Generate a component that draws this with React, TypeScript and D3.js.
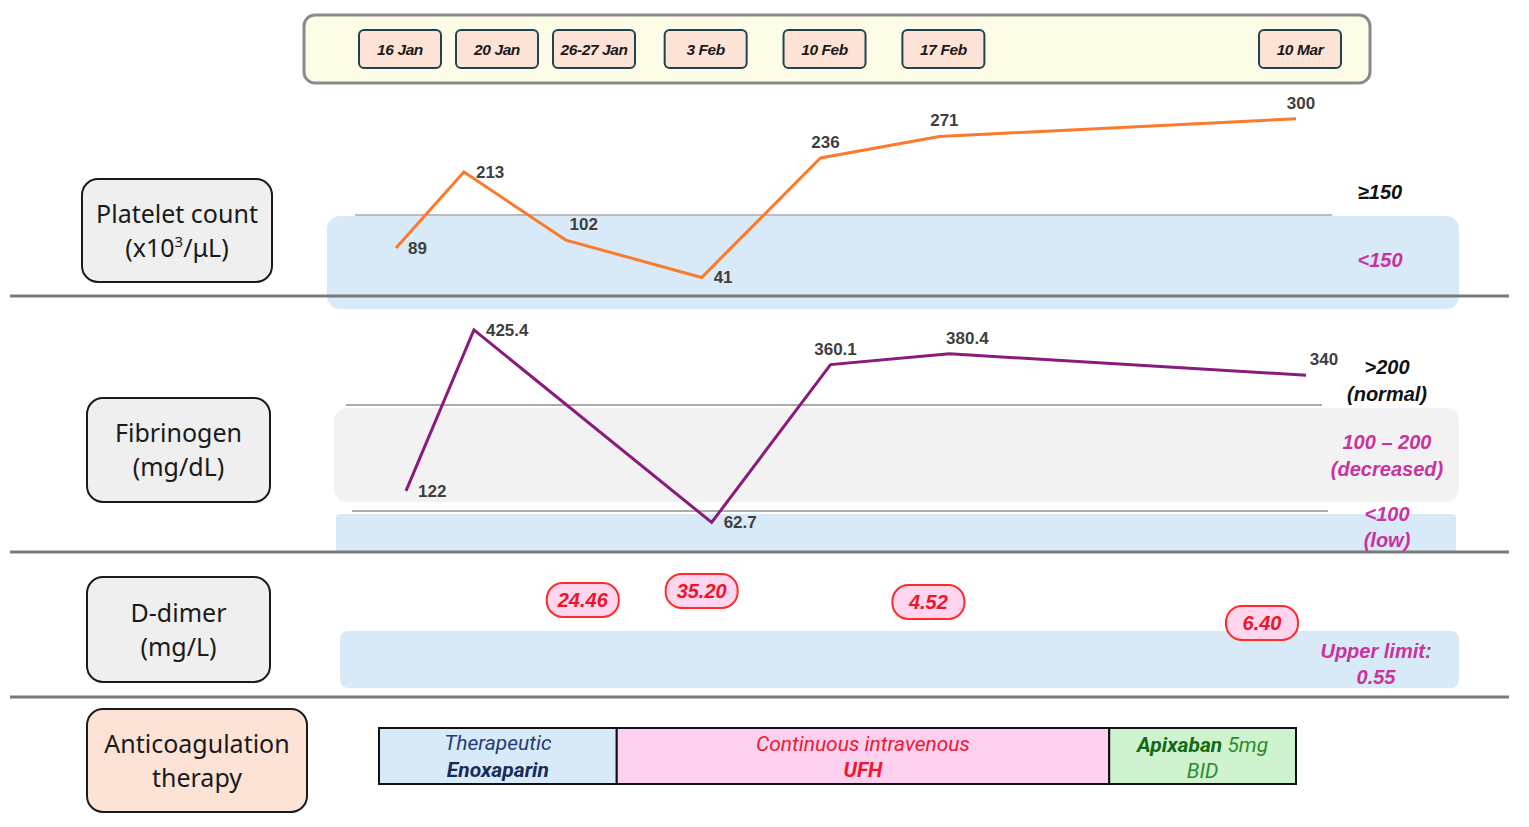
import * as d3 from 'd3';

// ---- data ----
const dateLabels = ['16 Jan', '20 Jan', '26-27 Jan', '3 Feb', '10 Feb', '17 Feb', '10 Mar'];
const dateTicks = ['2023-01-16', '2023-01-20', '2023-01-26', '2023-02-03', '2023-02-10', '2023-02-17', '2023-03-10'];

const plateletDates = ['2023-01-16', '2023-01-20', '2023-01-26', '2023-02-03', '2023-02-10', '2023-02-17', '2023-03-10'];
const plateletValues = [89, 213, 102, 41, 236, 271, 300];

const fibrinogenDates = ['2023-01-16', '2023-01-20', '2023-02-03', '2023-02-10', '2023-02-17', '2023-03-10'];
const fibrinogenValues = [122, 425.4, 62.7, 360.1, 380.4, 340];

const dimerDates = ['2023-01-27', '2023-02-03', '2023-02-17', '2023-03-10'];
const dimerValues = ['24.46', '35.20', '4.52', '6.40'];

const therapyStart = ['2023-01-15', '2023-01-29', '2023-02-27'];
const therapyEnd = ['2023-01-29', '2023-02-27', '2023-03-10'];

const parse = d3.timeParse('%Y-%m-%d');

// label placement: 'r' = right of point, 'a' = above, 'ar' = above right
const plateletLabelPos = ['r', 'r', 'ar', 'r', 'a', 'a', 'a'];
const fibrinogenLabelPos = ['r', 'r', 'r', 'a', 'ar', 'ar'];
// d-dimer callouts are loosely placed in the source
const dimerNudgeX = [0, 0, -11, -34];
const dimerNudgeY = [0, -9, 2, 23];

const MAGENTA = '#c8339f';
const NUM = "'Liberation Sans', Arial, sans-serif";
const BOXFONT = "'Noto Sans', 'Open Sans', sans-serif";

const x = d3.scaleTime()
  .domain([parse('2023-01-16')!, parse('2023-03-10')!])
  .range([396, 1296]);

const yPlatelet = d3.scaleLinear().domain([0, 300]).range([302.6, 118.7]);
const yFib = d3.scaleLinear().domain([0, 400]).range([555.7, 343.4]);

const LabelBox = ({ x0, y0, w, h, fill, lines }: any) => (
  <g>
    <rect x={x0} y={y0} width={w} height={h} rx={16} fill={fill} stroke="#1a1a1a" strokeWidth={2} />
    {lines.map((l: any, i: number) => (
      <text key={i} x={x0 + w / 2} y={y0 + h / 2 + (i === 0 ? -8 : 26)} textAnchor="middle"
        fontFamily={BOXFONT} fontSize={25} fill="#1a1a1a">{l}</text>
    ))}
  </g>
);

const App = () => {
  // date boxes: keep at scale positions but push apart so they don't overlap
  const boxX: number[] = [];
  dateTicks.forEach((d, i) => {
    const px = x(parse(d)!);
    boxX.push(i === 0 ? px : Math.max(px, boxX[i - 1] + 97));
  });

  const pltPts = plateletDates.map((d, i) => [x(parse(d)!), yPlatelet(plateletValues[i])] as [number, number]);
  const fibPts = fibrinogenDates.map((d, i) => [x(parse(d)!) + 10, yFib(fibrinogenValues[i])] as [number, number]);
  const line = d3.line();

  const labelAt = (p: [number, number], pos: string) => {
    if (pos === 'r') return { x: p[0] + 12, y: p[1] + 6, anchor: 'start' };
    if (pos === 'ar') return { x: p[0] + 18, y: p[1] - 10, anchor: 'middle' };
    return { x: p[0] + 5, y: p[1] - 10, anchor: 'middle' };
  };

  const sep = (y: number) => <line x1={10} x2={1509} y1={y} y2={y} stroke="#7a7a7a" strokeWidth={3} />;
  const side = { textAnchor: 'middle', fontFamily: NUM, fontStyle: 'italic', fontWeight: 700, fontSize: 20 } as any;

  return (
    <svg width={1529} height={827} style={{ position: 'absolute', left: 0, top: 0, background: '#fff' }}>
      {/* date strip */}
      <rect x={304} y={15} width={1066} height={68} rx={11} fill="#fdfce6" stroke="#8a8a8a" strokeWidth={3} />
      {dateLabels.map((l, i) => (
        <g key={l}>
          <rect x={boxX[i] + 4 - 41} y={30} width={82} height={38} rx={5} fill="#fde3d6" stroke="#1f4450" strokeWidth={2} />
          <text x={boxX[i] + 4} y={55} textAnchor="middle" fontFamily={NUM} fontStyle="italic"
            fontWeight={700} fontSize={15.5} fill="#1a1a1a" letterSpacing={-0.4}>{l}</text>
        </g>
      ))}

      {/* ---- Platelet panel ---- */}
      <rect x={327} y={216} width={1132} height={93} rx={13} fill="#d8e9f7" />
      <line x1={355} x2={1332} y1={215} y2={215} stroke="#a6a6a6" strokeWidth={1.5} />
      {sep(296)}
      <LabelBox x0={82} y0={179} w={190} h={103} fill="#efefef"
        lines={['Platelet count', <tspan key="s">(x10<tspan dy={-10} fontSize={15}>3</tspan><tspan dy={10}>/μL)</tspan></tspan>]} />
      <path d={line(pltPts)!} fill="none" stroke="#fb7a2b" strokeWidth={3} />
      {pltPts.map((p, i) => {
        const l = labelAt(p, plateletLabelPos[i]);
        return <text key={i} x={l.x} y={l.y} textAnchor={l.anchor} fontFamily={NUM} fontWeight={700}
          fontSize={17} fill="#3f3f3f">{plateletValues[i]}</text>;
      })}
      <text x={1380} y={199} {...side} fill="#111">≥150</text>
      <text x={1380} y={267} {...side} fill={MAGENTA}>&lt;150</text>

      {/* ---- Fibrinogen panel ---- */}
      <rect x={334} y={408} width={1125} height={94} rx={13} fill="#f2f2f2" />
      <rect x={336} y={514} width={1120} height={38} rx={4} fill="#d8e9f7" />
      <line x1={346} x2={1322} y1={405} y2={405} stroke="#8f8f8f" strokeWidth={1.5} />
      <line x1={352} x2={1328} y1={511} y2={511} stroke="#8f8f8f" strokeWidth={1.5} />
      {sep(552)}
      <LabelBox x0={87} y0={398} w={183} h={104} fill="#efefef" lines={['Fibrinogen', '(mg/dL)']} />
      <path d={line(fibPts)!} fill="none" stroke="#8a1a7c" strokeWidth={3} />
      {fibPts.map((p, i) => {
        const l = labelAt(p, fibrinogenLabelPos[i]);
        return <text key={i} x={l.x} y={l.y} textAnchor={l.anchor} fontFamily={NUM} fontWeight={700}
          fontSize={17} fill="#3f3f3f">{fibrinogenValues[i]}</text>;
      })}
      {[['>200', 374, '#111'], ['(normal)', 401, '#111'], ['100 – 200', 449, MAGENTA], ['(decreased)', 476, MAGENTA],
        ['<100', 521, MAGENTA], ['(low)', 547, MAGENTA]].map(([t, y, c]: any) => (
        <text key={t} x={1387} y={y} {...side} fill={c}>{t}</text>
      ))}

      {/* ---- D-dimer panel ---- */}
      <rect x={340} y={631} width={1119} height={57} rx={8} fill="#d8e9f7" />
      {sep(697)}
      <LabelBox x0={87} y0={577} w={183} h={105} fill="#efefef" lines={['D-dimer', '(mg/L)']} />
      {dimerDates.map((d, i) => {
        const cx = x(parse(d)!) + dimerNudgeX[i];
        const cy = 600 + dimerNudgeY[i];
        return (
          <g key={d}>
            <rect x={cx - 36} y={cy - 17} width={72} height={34} rx={16} fill="#ffd6ee" stroke="#ff2a2a" strokeWidth={2} />
            <text x={cx} y={cy + 7} textAnchor="middle" fontFamily={NUM} fontStyle="italic" fontWeight={700}
              fontSize={20} fill="#f0142a">{dimerValues[i]}</text>
          </g>
        );
      })}
      <text x={1376} y={658} {...side} fill={MAGENTA}>Upper limit:</text>
      <text x={1376} y={684} {...side} fill={MAGENTA}>0.55</text>

      {/* ---- Anticoagulation ---- */}
      <LabelBox x0={87} y0={709} w={220} h={103} fill="#fde3d6" lines={['Anticoagulation', 'therapy']} />
      {therapyStart.map((s, i) => {
        const x0 = x(parse(s)!);
        const x1 = x(parse(therapyEnd[i])!);
        const fills = ['#d8eaf8', '#fed0f0', '#d0f3cf'];
        return <rect key={s} x={x0} y={728} width={x1 - x0} height={56} fill={fills[i]} stroke="#111" strokeWidth={2} />;
      })}
      {(() => {
        const mid = (i: number) => (x(parse(therapyStart[i])!) + x(parse(therapyEnd[i])!)) / 2;
        const f = { fontFamily: 'Roboto, sans-serif', fontStyle: 'italic', fontSize: 21, textAnchor: 'middle' } as any;
        return (
          <g>
            <text x={mid(0)} y={750} {...f} fill="#1f3d7a">Therapeutic</text>
            <text x={mid(0)} y={777} {...f} fontWeight={700} fill="#172c5c">Enoxaparin</text>
            <text x={mid(1)} y={751} {...f} fill="#f01830">Continuous intravenous</text>
            <text x={mid(1)} y={777} {...f} fontWeight={700} fill="#f01830">UFH</text>
            <text x={mid(2)} y={752} {...f} fill="#2e8a2e"><tspan fontWeight={700} fill="#146a14">Apixaban</tspan> 5mg</text>
            <text x={mid(2)} y={778} {...f} fill="#2e8a2e">BID</text>
          </g>
        );
      })()}
    </svg>
  );
};

export default App;
